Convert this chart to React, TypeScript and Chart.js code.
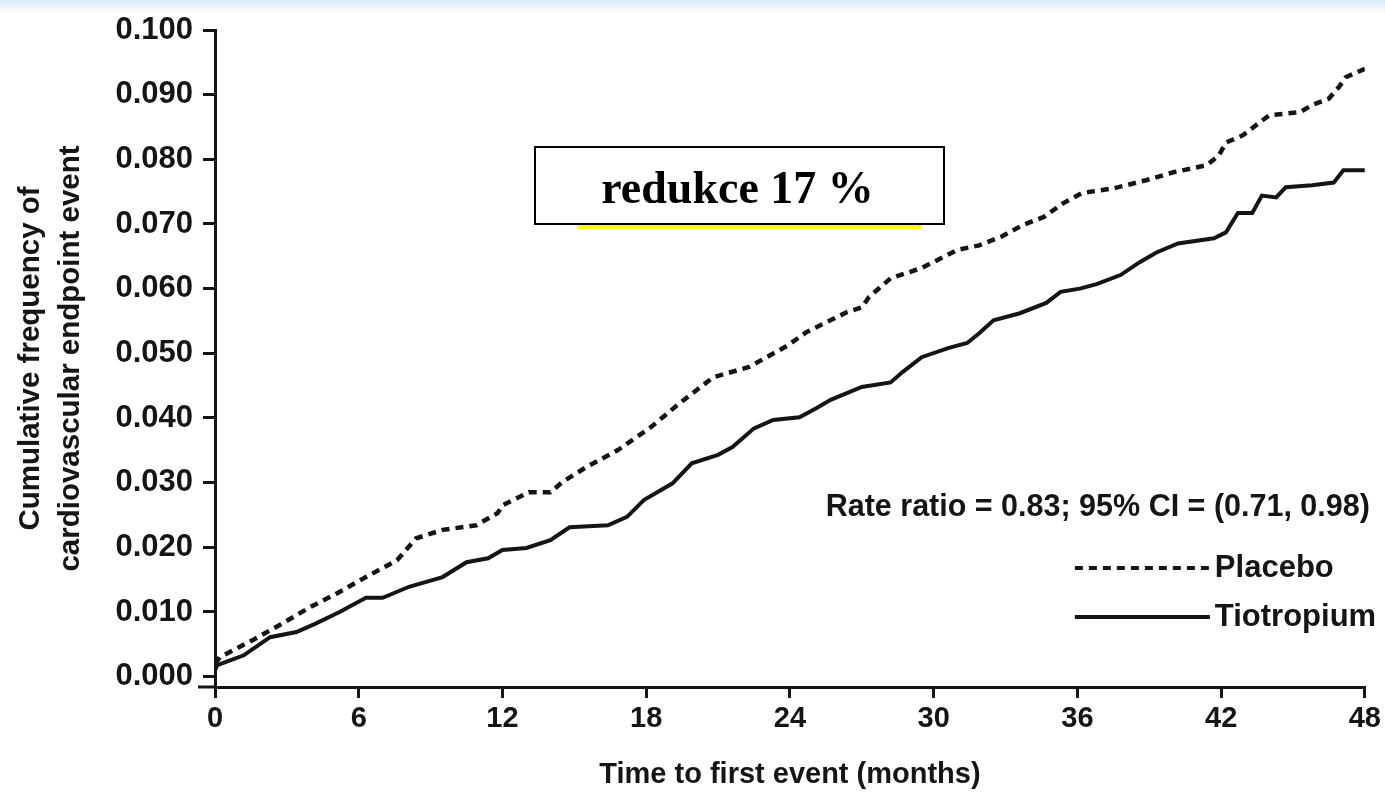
import React, { useEffect, useRef } from "react";
import { Chart, registerables } from "chart.js";

Chart.register(...registerables);

// ---------- data ----------
const monthTicks = [0, 6, 12, 18, 24, 30, 36, 42, 48];
const frequencyTicks = [0, 0.01, 0.02, 0.03, 0.04, 0.05, 0.06, 0.07, 0.08, 0.09, 0.1];

const placeboMonths = [
  0, 0.2, 1.6, 2.7, 4.0, 5.1, 6.3, 7.6, 8.4, 9.5, 10.9, 11.8, 12.0, 13.1, 14.0, 14.5, 15.5,
  16.8, 18.2, 19.4, 20.8, 22.3, 23.9, 24.7, 26.4, 27.0, 27.3, 28.2, 29.5, 31.0, 31.9, 32.8,
  33.7, 34.6, 35.4, 36.2, 37.5, 38.9, 40.0, 41.4, 41.9, 42.2, 42.9, 44.0, 45.3, 45.8, 46.5,
  46.9, 47.2, 48.0,
];
const placeboValues = [
  0.002, 0.003, 0.0057, 0.008, 0.0108, 0.0129, 0.0154, 0.018, 0.0214, 0.0227, 0.0234, 0.0253,
  0.0265, 0.0285, 0.0285, 0.0301, 0.0324, 0.035, 0.0386, 0.0423, 0.0463, 0.0479, 0.0512,
  0.0533, 0.0564, 0.0571, 0.0587, 0.0616, 0.0632, 0.066, 0.0667, 0.068, 0.0698, 0.0711,
  0.0732, 0.0748, 0.0755, 0.0768, 0.078, 0.0791, 0.0806, 0.0826, 0.0837, 0.0868, 0.0873,
  0.0884, 0.0894, 0.0911, 0.0927, 0.094,
];

const tiotropiumMonths = [
  0, 0.1, 1.2, 2.3, 3.4, 4.2, 5.2, 6.3, 7.0, 8.1, 9.5, 10.5, 11.4, 12.0, 13.0, 14.0, 14.8,
  16.4, 17.2, 17.9, 19.1, 19.9, 21.0, 21.6, 22.5, 23.3, 24.4, 25.1, 25.7, 27.0, 28.2, 28.7,
  29.5, 30.6, 31.4, 31.9, 32.5, 33.6, 34.7, 35.3, 36.1, 36.8, 37.8, 38.6, 39.3, 40.2, 41.7,
  42.2, 42.7, 43.3, 43.7, 44.3, 44.7, 45.8, 46.7, 47.1, 48.0,
];
const tiotropiumValues = [
  0.001, 0.0018, 0.0033, 0.0061, 0.0069, 0.0082, 0.01, 0.0122, 0.0122, 0.0139, 0.0154,
  0.0177, 0.0183, 0.0196, 0.0199, 0.0211, 0.0231, 0.0234, 0.0247, 0.0273, 0.0299, 0.033,
  0.0343, 0.0355, 0.0384, 0.0397, 0.0401, 0.0415, 0.0428, 0.0448, 0.0455, 0.0471, 0.0494,
  0.0508, 0.0516, 0.0531, 0.0551, 0.0562, 0.0578, 0.0595, 0.06, 0.0607, 0.0621, 0.0641,
  0.0656, 0.067, 0.0678, 0.0687, 0.0717, 0.0717, 0.0744, 0.0741, 0.0757, 0.076, 0.0764,
  0.0783, 0.0783,
];

const seriesLabels = ["Placebo", "Tiotropium"];
const rateRatioText = "Rate ratio = 0.83; 95% CI = (0.71, 0.98)";
const reductionText = "redukce 17 %";
const yAxisTitle = ["Cumulative frequency of", "cardiovascular endpoint event"];
const xAxisTitle = "Time to first event (months)";

// ---------- styles ----------
const SANS = '"Liberation Sans", Arial, Helvetica, sans-serif';
const SERIF = '"Liberation Serif", "Times New Roman", serif';
const INK = "#151515";

const overlayPlugin = {
  id: "overlay",
  afterDraw(chart: any) {
    const { ctx, chartArea } = chart;
    const { left, right, bottom } = chartArea;
    ctx.save();

    // small left extension of the x axis line
    ctx.strokeStyle = INK;
    ctx.lineWidth = 3;
    ctx.beginPath();
    ctx.moveTo(left - 17, bottom);
    ctx.lineTo(left, bottom);
    ctx.stroke();

    // reduction box
    const bx0 = 535, by0 = 147, bx1 = 944, by1 = 224;
    ctx.fillStyle = "#ffff00";
    ctx.fillRect(577, by1 + 1, 921 - 577, 4);
    ctx.fillStyle = "#ffffff";
    ctx.fillRect(bx0, by0, bx1 - bx0, by1 - by0);
    ctx.strokeStyle = "#000";
    ctx.lineWidth = 2;
    ctx.strokeRect(bx0, by0, bx1 - bx0, by1 - by0);
    ctx.fillStyle = "#000";
    ctx.font = `bold 46px ${SERIF}`;
    ctx.textAlign = "center";
    ctx.textBaseline = "alphabetic";
    ctx.fillText(reductionText, (bx0 + bx1) / 2 - 2, 203);

    // rate ratio text + legend
    ctx.fillStyle = INK;
    ctx.font = `bold 30.5px ${SANS}`;
    ctx.textBaseline = "middle";
    ctx.textAlign = "right";
    ctx.fillText(rateRatioText, right + 5, bottom - 179);

    const lx0 = right - 290, lx1 = right - 155, tx = right - 150;
    const rows = [bottom - 119, bottom - 70];
    ctx.lineWidth = 4;
    ctx.strokeStyle = INK;
    // placebo dashed
    ctx.setLineDash([8, 6]);
    ctx.beginPath();
    ctx.moveTo(lx0, rows[0]);
    ctx.lineTo(lx1, rows[0]);
    ctx.stroke();
    // tiotropium solid
    ctx.setLineDash([]);
    ctx.beginPath();
    ctx.moveTo(lx0, rows[1]);
    ctx.lineTo(lx1, rows[1]);
    ctx.stroke();
    ctx.textAlign = "left";
    ctx.font = `bold 31px ${SANS}`;
    ctx.fillText(seriesLabels[0], tx, rows[0]);
    ctx.fillText(seriesLabels[1], tx, rows[1]);

    ctx.restore();
  },
};

export default function App() {
  const canvasRef = useRef<HTMLCanvasElement | null>(null);

  useEffect(() => {
    const canvas = canvasRef.current;
    if (!canvas) return;
    const placeboData = placeboMonths.map((m, i) => ({ x: m, y: placeboValues[i] }));
    const tioData = tiotropiumMonths.map((m, i) => ({ x: m, y: tiotropiumValues[i] }));

    const chart = new Chart(canvas, {
      type: "line",
      data: {
        datasets: [
          {
            label: seriesLabels[0],
            data: placeboData,
            borderColor: INK,
            borderWidth: 4.5,
            borderDash: [8, 6],
            pointRadius: 0,
            tension: 0,
            fill: false,
          },
          {
            label: seriesLabels[1],
            data: tioData,
            borderColor: INK,
            borderWidth: 4,
            pointRadius: 0,
            tension: 0,
            fill: false,
          },
        ],
      },
      options: {
        animation: false,
        responsive: false,
        devicePixelRatio: 1,
        layout: { padding: { left: 0, right: 20, top: 30, bottom: 0 } },
        plugins: {
          legend: { display: false },
          tooltip: { enabled: false },
        },
        scales: {
          x: {
            type: "linear",
            min: 0,
            max: 48,
            afterFit: (s: any) => {
              s.height = 107;
            },
            afterBuildTicks: (s: any) => {
              s.ticks = monthTicks.map((v) => ({ value: v }));
            },
            border: { display: true, color: INK, width: 3 },
            grid: {
              display: true,
              drawOnChartArea: false,
              drawTicks: true,
              tickLength: 11,
              color: INK,
              lineWidth: 3,
            },
            ticks: {
              padding: 4,
              color: INK,
              font: { family: SANS, size: 29, weight: "bold" },
              callback: (v: any) => String(v),
            },
            title: {
              display: true,
              text: xAxisTitle,
              color: INK,
              font: { family: SANS, size: 29, weight: "bold", lineHeight: 1.2 },
              padding: { top: 0, bottom: 2 },
            },
          },
          y: {
            type: "linear",
            min: -0.0016,
            max: 0.1,
            afterFit: (s: any) => {
              s.width = 215;
            },
            afterBuildTicks: (s: any) => {
              s.ticks = frequencyTicks.map((v) => ({ value: v }));
            },
            border: { display: true, color: INK, width: 3 },
            grid: {
              display: true,
              drawOnChartArea: false,
              drawTicks: true,
              tickLength: 12,
              color: INK,
              lineWidth: 3,
            },
            ticks: {
              padding: 10,
              color: INK,
              font: { family: SANS, size: 31, weight: "bold" },
              callback: (v: any) => Number(v).toFixed(3),
            },
            title: {
              display: true,
              text: yAxisTitle,
              color: INK,
              font: { family: SANS, size: 29.5, weight: "bold", lineHeight: 40 / 29.5 },
              padding: { top: 11, bottom: 0 },
            },
          },
        },
      },
      plugins: [overlayPlugin],
    } as any);

    return () => chart.destroy();
  }, []);

  return (
    <div
      style={{
        position: "fixed",
        left: 0,
        top: 0,
        width: 1385,
        height: 794,
        background: "#ffffff",
        overflow: "hidden",
      }}
    >
      <div
        style={{
          position: "absolute",
          left: 0,
          top: 0,
          width: 1385,
          height: 14,
          background: "linear-gradient(to bottom, #d9eaf4, #ffffff)",
        }}
      />
      <canvas
        ref={canvasRef}
        width={1385}
        height={794}
        style={{ position: "absolute", left: 0, top: 0, width: 1385, height: 794 }}
      />
    </div>
  );
}
